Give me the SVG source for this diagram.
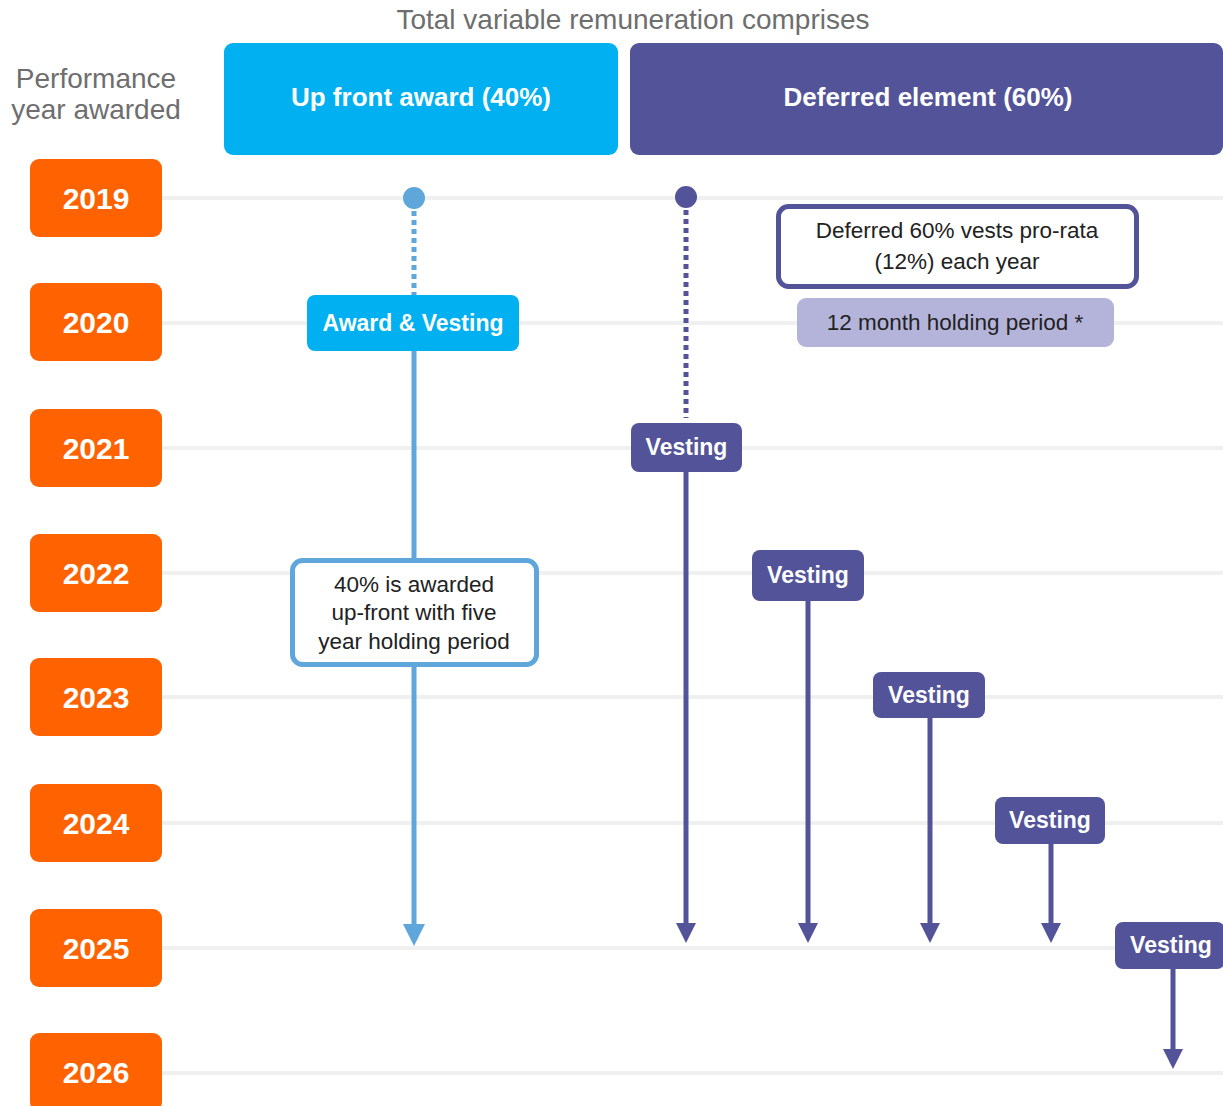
<svg xmlns="http://www.w3.org/2000/svg" width="1223" height="1106" viewBox="0 0 1223 1106">
<defs>
<style>
.grid{stroke:#f0f0f0;stroke-width:4}
.year rect{fill:#ff6200}
.year text{fill:#fff;font-family:"Liberation Sans",Arial,sans-serif;font-weight:bold;font-size:30px;text-anchor:middle}
.hdr{font-family:"Liberation Sans",Arial,sans-serif;font-size:28px;fill:#6e6e6e;text-anchor:middle}
.head text{fill:#fff;font-family:"Liberation Sans",Arial,sans-serif;font-weight:bold;font-size:26px;text-anchor:middle}
.lbl text{fill:#fff;font-family:"Liberation Sans",Arial,sans-serif;font-weight:bold;font-size:23px;text-anchor:middle}
.note text{fill:#222;font-family:"Liberation Sans",Arial,sans-serif;font-size:22.5px;text-anchor:middle}
.blue{stroke:#5fa6db;stroke-width:5;fill:none}
.purple{stroke:#535399;stroke-width:5;fill:none}
.dot{stroke-dasharray:5 4}
</style>
<marker id="ab" viewBox="0 0 22 22" refX="12" refY="11" markerWidth="22" markerHeight="22" markerUnits="userSpaceOnUse" orient="auto"><path d="M0,0 L22,11 L0,22 z" fill="#5fa6db"/></marker>
<marker id="ap" viewBox="0 0 20 20" refX="10" refY="10" markerWidth="20" markerHeight="20" markerUnits="userSpaceOnUse" orient="auto"><path d="M0,0 L20,10 L0,20 z" fill="#535399"/></marker>
</defs>
<rect width="1223" height="1106" fill="#fff"/>
<g id="gridlines">
<line class="grid" x1="162" y1="198" x2="1223" y2="198"/>
<line class="grid" x1="162" y1="323" x2="1223" y2="323"/>
<line class="grid" x1="162" y1="448" x2="1223" y2="448"/>
<line class="grid" x1="162" y1="573" x2="1223" y2="573"/>
<line class="grid" x1="162" y1="697" x2="1223" y2="697"/>
<line class="grid" x1="162" y1="823" x2="1223" y2="823"/>
<line class="grid" x1="162" y1="948" x2="1223" y2="948"/>
<line class="grid" x1="162" y1="1073" x2="1223" y2="1073"/>
</g>
<text class="hdr" x="633" y="29">Total variable remuneration comprises</text>
<g id="perf-label"><text class="hdr" x="96" y="88">Performance</text><text class="hdr" x="96" y="119">year awarded</text></g>
<g id="y2019" class="year"><rect x="30" y="159" width="132" height="78" rx="9"/><text x="96" y="209">2019</text></g>
<g id="y2020" class="year"><rect x="30" y="283" width="132" height="78" rx="9"/><text x="96" y="333">2020</text></g>
<g id="y2021" class="year"><rect x="30" y="409" width="132" height="78" rx="9"/><text x="96" y="459">2021</text></g>
<g id="y2022" class="year"><rect x="30" y="534" width="132" height="78" rx="9"/><text x="96" y="584">2022</text></g>
<g id="y2023" class="year"><rect x="30" y="658" width="132" height="78" rx="9"/><text x="96" y="708">2023</text></g>
<g id="y2024" class="year"><rect x="30" y="784" width="132" height="78" rx="9"/><text x="96" y="834">2024</text></g>
<g id="y2025" class="year"><rect x="30" y="909" width="132" height="78" rx="9"/><text x="96" y="959">2025</text></g>
<g id="y2026" class="year"><rect x="30" y="1033" width="132" height="78" rx="9"/><text x="96" y="1083">2026</text></g>
<g id="upfront" class="head"><rect x="224" y="43" width="394" height="112" rx="9" fill="#00b0f0"/><text x="421" y="106">Up front award (40%)</text></g>
<g id="deferred" class="head"><rect x="630" y="43" width="593" height="112" rx="9" fill="#535399"/><text x="928" y="106">Deferred element (60%)</text></g>
<g id="connectors">
<line class="blue dot" x1="414" y1="211" x2="414" y2="296"/>
<line class="blue" x1="414" y1="351" x2="414" y2="559"/>
<line class="blue" x1="414" y1="667" x2="414" y2="936" marker-end="url(#ab)"/>
<line class="purple dot" x1="686" y1="210" x2="686" y2="418"/>
<line class="purple" x1="686" y1="472" x2="686" y2="933" marker-end="url(#ap)"/>
<line class="purple" x1="808" y1="601" x2="808" y2="933" marker-end="url(#ap)"/>
<line class="purple" x1="930" y1="718" x2="930" y2="933" marker-end="url(#ap)"/>
<line class="purple" x1="1051" y1="844" x2="1051" y2="933" marker-end="url(#ap)"/>
<line class="purple" x1="1173" y1="969" x2="1173" y2="1059" marker-end="url(#ap)"/>
</g>
<g id="start-blue"><circle cx="414" cy="198" r="11" fill="#5fa6db"/></g>
<g id="start-purple"><circle cx="686" cy="197" r="11" fill="#535399"/></g>
<g id="award-vesting" class="lbl"><rect x="307" y="295" width="212" height="56" rx="8" fill="#00b0f0"/><text x="413" y="331">Award &amp; Vesting</text></g>
<g id="upfront-note" class="note"><rect x="292.5" y="560.5" width="244" height="104" rx="10" fill="#fff" stroke="#5fa6db" stroke-width="5"/><text x="414" y="592">40% is awarded</text><text x="414" y="620">up-front with five</text><text x="414" y="649">year holding period</text></g>
<g id="deferred-note" class="note"><rect x="778.5" y="206.5" width="358" height="80" rx="10" fill="#fff" stroke="#535399" stroke-width="5"/><text x="957" y="238">Deferred 60% vests pro-rata</text><text x="957" y="269">(12%) each year</text></g>
<g id="holding" class="note"><rect x="797" y="298" width="317" height="49" rx="9" fill="#b4b4da"/><text x="955" y="330">12 month holding period *</text></g>
<g id="v1" class="lbl"><rect x="631" y="423" width="111" height="49" rx="8" fill="#535399"/><text x="686.5" y="455">Vesting</text></g>
<g id="v2" class="lbl"><rect x="752" y="550" width="112" height="51" rx="8" fill="#535399"/><text x="808" y="583">Vesting</text></g>
<g id="v3" class="lbl"><rect x="873" y="672" width="112" height="46" rx="8" fill="#535399"/><text x="929" y="703">Vesting</text></g>
<g id="v4" class="lbl"><rect x="995" y="797" width="110" height="47" rx="8" fill="#535399"/><text x="1050" y="828">Vesting</text></g>
<g id="v5" class="lbl"><rect x="1115" y="922" width="110" height="47" rx="8" fill="#535399"/><text x="1171" y="953">Vesting</text></g>
</svg>
